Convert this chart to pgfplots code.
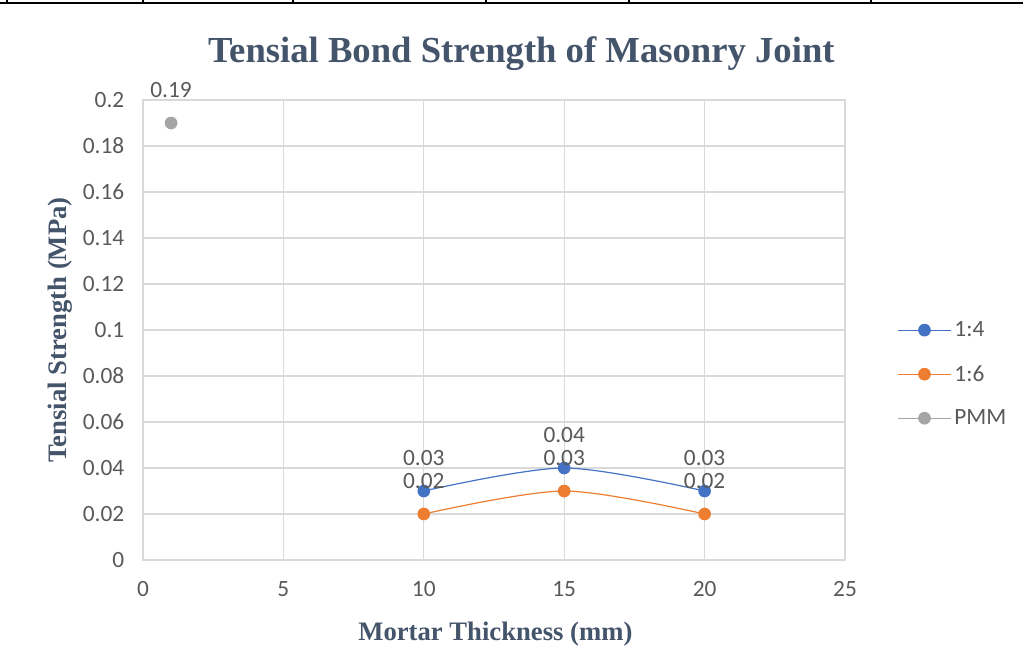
\documentclass[border=0pt]{standalone}
\usepackage{pgfplots}
\pgfplotsset{compat=1.18}
\usepackage{fontspec}
\setmainfont{Carlito}
\newfontfamily\tnr{Liberation Serif}
\definecolor{s14}{HTML}{4472C4}
\definecolor{s16}{HTML}{ED7D31}
\definecolor{spmm}{HTML}{A5A5A5}
\definecolor{gridc}{HTML}{D9D9D9}
\definecolor{tickc}{HTML}{595959}
\definecolor{titlec}{HTML}{44546A}
\begin{document}
\begin{tikzpicture}[x=0.75pt,y=0.75pt]
% page frame: 1023 x 668 units, axis origin at (143,560)
\useasboundingbox (-143,-108) rectangle (880,560);
% table rule along the top edge
\draw[black, line width=1.2pt] (-143,557) -- (880,557);
\foreach \xx in {7,143,293,486,629,871} {
  \draw[black, line width=1.2pt] ({\xx-143},557) -- ({\xx-143},560);
}
\begin{axis}[
  at={(0,0)}, anchor=origin,
  scale only axis,
  width=526.5pt, height=345pt,
  xmin=0, xmax=25, ymin=0, ymax=0.2,
  xtick={0,5,...,25},
  ytick={0,0.02,...,0.2},
  yticklabels={0,0.02,0.04,0.06,0.08,0.1,0.12,0.14,0.16,0.18,0.2},
  grid=major,
  major grid style={gridc, line width=0.8pt},
  axis line style={gridc, line width=0.8pt},
  tick style={draw=none},
  tick label style={font=\fontsize{17.5}{20}\selectfont, text=tickc},
  /pgf/number format/assume math mode=true,
  xticklabel style={yshift=-12.5pt},
  yticklabel style={xshift=-10.5pt},
  title={\tnr\bfseries Tensial Bond Strength of Masonry Joint},
  title style={font=\fontsize{27.5}{30}\selectfont, text=titlec,
    at={(axis description cs:0.539,1.083)}, anchor=center},
  xlabel={\tnr\bfseries Mortar Thickness (mm)},
  ylabel={\tnr\bfseries Tensial Strength (MPa)},
  label style={font=\fontsize{20}{22}\selectfont, text=titlec},
  xlabel style={at={(axis description cs:0.502,-0.16)}, anchor=center},
  ylabel style={at={(axis description cs:-0.118,0.5)}, anchor=center},
  legend style={at={(1.074,0.404)}, anchor=west, draw=none, fill=none,
    font=\fontsize{17.5}{20}\selectfont, text=tickc, row sep=16pt,
    inner xsep=0pt},
  legend cell align=left,
  legend image code/.code={
    \draw[mark repeat=2, mark phase=2] plot coordinates {(0pt,0pt) (20pt,0pt) (40pt,0pt)};
  },
  nodes near coords,
  nodes near coords style={font=\fontsize{17.5}{20}\selectfont, text=tickc, anchor=center, yshift=25pt,
    /pgf/number format/.cd, fixed, fixed zerofill, precision=2, assume math mode=true},
  every axis plot/.append style={line width=0.9pt, mark=*, mark size=4.3pt},
  clip=false,
]
\addplot[s14, smooth, mark options={fill=s14, draw=s14}] coordinates {(10,0.03) (15,0.04) (20,0.03)};
\addlegendentry{1:4}
\addplot[s16, smooth, mark options={fill=s16, draw=s16}] coordinates {(10,0.02) (15,0.03) (20,0.02)};
\addlegendentry{1:6}
\addplot[spmm, mark options={fill=spmm, draw=spmm}] coordinates {(1,0.19)};
\addlegendentry{PMM}
\end{axis}
\end{tikzpicture}
\end{document}
